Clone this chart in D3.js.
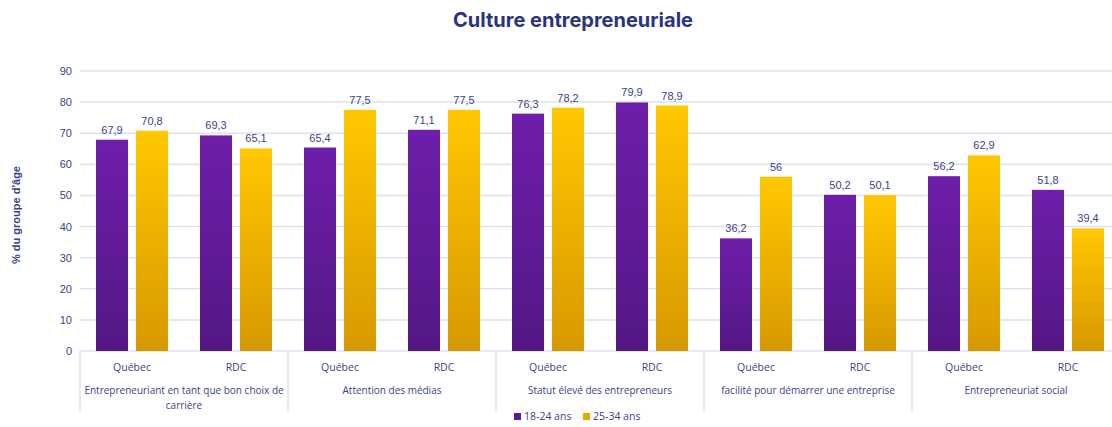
<!DOCTYPE html>
<html>
<head>
<meta charset="utf-8">
<script src="https://cdn.jsdelivr.net/npm/d3@7"></script>
<style>
  body { margin: 0; background: #fff; }
  svg { display: block; }
</style>
</head>
<body>
<script>
// chart values
var categories = ["Entrepreneuriant en tant que bon choix de carrière", "Attention des médias",
    "Statut élevé des entrepreneurs", "facilité pour démarrer une entreprise", "Entrepreneuriat social"];
var countries = ["Québec", "RDC"];
var series = ["18-24 ans", "25-34 ans"];
var quebec1824 = [67.9, 65.4, 76.3, 36.2, 56.2];
var quebec2534 = [70.8, 77.5, 78.2, 56, 62.9];
var rdc1824 = [69.3, 71.1, 79.9, 50.2, 51.8];
var rdc2534 = [65.1, 77.5, 78.9, 50.1, 39.4];
var yTicks = [0, 10, 20, 30, 40, 50, 60, 70, 80, 90];

var width = 1112, height = 427;
var margin = { top: 71, right: -8, bottom: 76, left: 80 };
var textCol = "#3b4288";

var svg = d3.select("body").append("svg")
    .attr("width", width)
    .attr("height", height);

// gradients for the bars
var defs = svg.append("defs");
var grads = [["g0", "#6d1eab", "#541784"], ["g1", "#ffc800", "#d79900"]];
grads.forEach(function (g) {
    var lg = defs.append("linearGradient").attr("id", g[0])
        .attr("x1", 0).attr("y1", 0).attr("x2", 0).attr("y2", 1);
    lg.append("stop").attr("offset", "0%").attr("stop-color", g[1]);
    lg.append("stop").attr("offset", "100%").attr("stop-color", g[2]);
});

// flatten into one row per category/country
var rows = [];
categories.forEach(function (c, i) {
    rows.push({ cat: c, country: countries[0], key: c + "|" + countries[0], vals: [quebec1824[i], quebec2534[i]] });
    rows.push({ cat: c, country: countries[1], key: c + "|" + countries[1], vals: [rdc1824[i], rdc2534[i]] });
});

var x0 = d3.scaleBand()
    .domain(rows.map(d => d.key))
    .range([margin.left, width - margin.right]);

var xCat = d3.scaleBand()
    .domain(categories)
    .range([margin.left, width - margin.right]);

var x1 = d3.scaleBand()
    .domain(series)
    .range([16, x0.bandwidth() - 16])
    .paddingInner(0.2);

var y = d3.scaleLinear()
    .domain([0, 90])
    .range([height - margin.bottom, margin.top]);

// gridlines
svg.append("g")
    .selectAll("line")
    .data(yTicks)
    .enter().append("line")
    .attr("x1", margin.left)
    .attr("x2", width)
    .attr("y1", d => y(d))
    .attr("y2", d => y(d))
    .attr("stroke", "#dfe0f3")
    .attr("stroke-width", 1.5);

// y axis labels
svg.append("g")
    .selectAll("text")
    .data(yTicks)
    .enter().append("text")
    .attr("x", margin.left - 8)
    .attr("y", d => y(d) + 4)
    .attr("text-anchor", "end")
    .attr("font-family", "'Liberation Sans', Arial, sans-serif")
    .attr("font-size", "11px")
    .attr("fill", textCol)
    .text(d => d);

svg.append("text")
    .attr("transform", "translate(20," + ((y(0) + y(90)) / 2 + 4) + ") rotate(-90)")
    .attr("text-anchor", "middle")
    .attr("font-family", "'Liberation Sans', Arial, sans-serif")
    .attr("font-size", "11px")
    .attr("font-weight", "bold")
    .attr("fill", textCol)
    .text("% du groupe d'âge");

// title
svg.append("text")
    .attr("x", 573)
    .attr("y", 27)
    .attr("text-anchor", "middle")
    .attr("font-family", "Inter, 'Noto Sans', sans-serif")
    .attr("font-size", "20px")
    .attr("font-weight", "bold")
    .attr("fill", "#293380")
    .text("Culture entrepreneuriale");

// bars
var fmt = v => String(v).replace(".", ",");
var groups = svg.append("g")
    .selectAll("g")
    .data(rows)
    .enter().append("g")
    .attr("transform", d => "translate(" + x0(d.key) + ",0)");

groups.selectAll("rect")
    .data(d => d.vals.map((v, i) => ({ s: series[i], v: v, i: i })))
    .enter().append("rect")
    .attr("x", d => x1(d.s))
    .attr("y", d => y(d.v))
    .attr("width", x1.bandwidth())
    .attr("height", d => y(0) - y(d.v))
    .attr("fill", d => "url(#g" + d.i + ")");

groups.selectAll("text")
    .data(d => d.vals.map((v, i) => ({ s: series[i], v: v })))
    .enter().append("text")
    .attr("x", d => x1(d.s) + x1.bandwidth() / 2)
    .attr("y", d => y(d.v) - 6)
    .attr("text-anchor", "middle")
    .attr("font-family", "'Liberation Sans', Arial, sans-serif")
    .attr("font-size", "11px")
    .attr("fill", textCol)
    .text(d => fmt(d.v));

// category axis boxes
var axisG = svg.append("g");
var base = y(0);
axisG.selectAll("line.sep")
    .data(categories)
    .enter().append("line")
    .attr("x1", d => xCat(d))
    .attr("x2", d => xCat(d))
    .attr("y1", base)
    .attr("y2", base + 60)
    .attr("stroke", "#dfe0f3")
    .attr("stroke-width", 1.5);

axisG.selectAll("text.country")
    .data(rows)
    .enter().append("text")
    .attr("x", d => x0(d.key) + x0.bandwidth() / 2)
    .attr("y", base + 20)
    .attr("text-anchor", "middle")
    .attr("font-family", "'Open Sans', sans-serif")
    .attr("font-size", "10.5px")
    .attr("fill", textCol)
    .text(d => d.country);

// wrap long category names onto several lines
function wrap(textSel, w) {
    textSel.each(function () {
        var t = d3.select(this), words = t.text().split(" "), line = [], lines = [];
        words.forEach(function (wd) {
            line.push(wd);
            t.text(line.join(" "));
            if (t.node().getComputedTextLength() > w && line.length > 1) {
                line.pop();
                lines.push(line.join(" "));
                line = [wd];
            }
        });
        lines.push(line.join(" "));
        t.text(null);
        lines.forEach(function (l, i) {
            t.append("tspan").attr("x", t.attr("x")).attr("dy", i ? 15 : 0).text(l);
        });
    });
}

axisG.selectAll("text.cat")
    .data(categories)
    .enter().append("text")
    .attr("x", d => xCat(d) + xCat.bandwidth() / 2)
    .attr("y", base + 43)
    .attr("text-anchor", "middle")
    .attr("font-family", "'Open Sans', sans-serif")
    .attr("font-size", "10px")
    .attr("fill", textCol)
    .text(d => d)
    .call(wrap, 204);

// legend
var legend = svg.append("g").attr("transform", "translate(514,420)");
var legX = [0, 69];
series.forEach(function (s, i) {
    legend.append("rect")
        .attr("x", legX[i])
        .attr("y", -7)
        .attr("width", 7)
        .attr("height", 7)
        .attr("fill", i ? "#e7a800" : "#5b1a8e");
    legend.append("text")
        .attr("x", legX[i] + 10)
        .attr("y", 0)
        .attr("font-family", "'Open Sans', sans-serif")
        .attr("font-size", "10.5px")
        .attr("fill", textCol)
        .text(s);
});
</script>
</body>
</html>
